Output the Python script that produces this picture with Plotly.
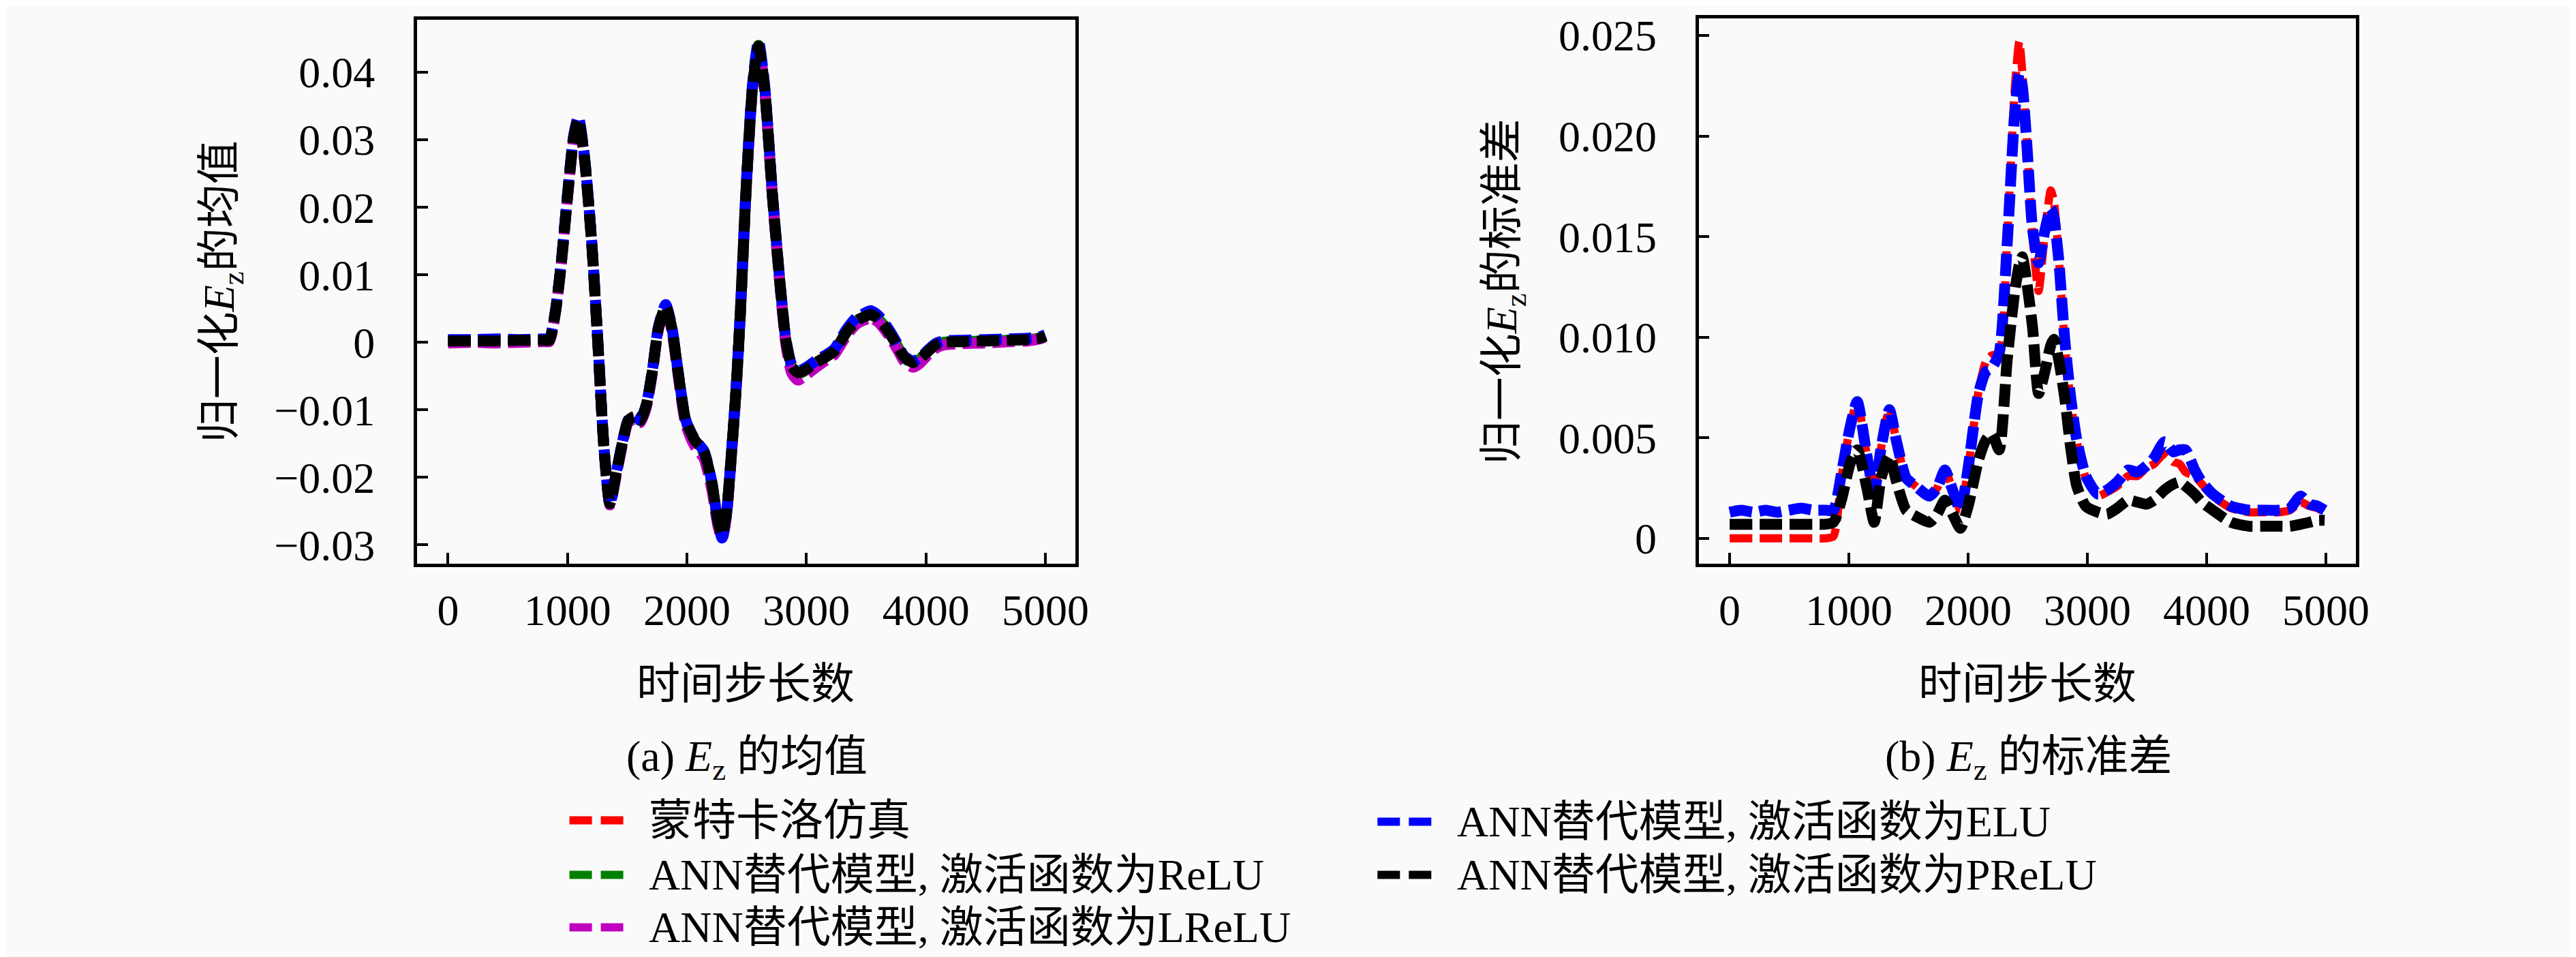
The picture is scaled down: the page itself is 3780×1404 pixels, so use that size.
import plotly.graph_objects as go

# 时间步长 (均值子图)
mean_steps = [0, 200, 400, 600, 800, 848, 898, 949, 1000, 1051, 1091, 1142, 1203, 1254,
              1305, 1355, 1406, 1457, 1508, 1558, 1609, 1660, 1711, 1761, 1822, 1873,
              1924, 1990, 2066, 2142, 2208, 2259, 2294, 2330, 2371, 2411, 2447, 2497,
              2548, 2599, 2650, 2716, 2777, 2827, 2878, 2929, 3000, 3081, 3160, 3234,
              3335, 3420, 3487, 3538, 3600, 3690, 3760, 3817, 3893, 3950, 4020, 4080,
              4147, 4300, 4500, 4700, 4850, 4950, 5000]

mean_prelu = [0.0002, 0.0002, 0.0002, 0.0003, 0.0003, 0.0003, 0.0044, 0.0119, 0.0216, 0.0302,
              0.0330, 0.0273, 0.0147, 0.0000, -0.0156, -0.0239, -0.0196, -0.0151, -0.0116,
              -0.0110, -0.0116, -0.0093, -0.0042, 0.0021, 0.0053, 0.0021, -0.0042, -0.0116,
              -0.0145, -0.0162, -0.0208, -0.0265, -0.0285, -0.0254, -0.0168, -0.0070, 0.0044,
              0.0233, 0.0376, 0.0439, 0.0376, 0.0216, 0.0090, 0.0004, -0.0036, -0.0045,
              -0.0040, -0.0030, -0.0022, -0.0013, 0.0015, 0.0032, 0.0038, 0.0041, 0.0035,
              0.0015, -0.0005, -0.0022, -0.0030, -0.0025, -0.0013, -0.0004, 0.0000, 0.0001,
              0.0002, 0.0003, 0.0004, 0.0006, 0.0009]
mean_mc = [0.0001, 0.0002, 0.0001, 0.0002, 0.0003, 0.0003, 0.0043, 0.0118, 0.0215, 0.0301,
           0.0331, 0.0274, 0.0148, 0.0001, -0.0155, -0.0238, -0.0197, -0.0152, -0.0115,
           -0.0111, -0.0117, -0.0094, -0.0043, 0.0020, 0.0052, 0.0020, -0.0043, -0.0117,
           -0.0148, -0.0165, -0.0211, -0.0268, -0.0287, -0.0256, -0.0169, -0.0071, 0.0043,
           0.0232, 0.0377, 0.0440, 0.0377, 0.0217, 0.0091, 0.0003, -0.0038, -0.0048,
           -0.0042, -0.0032, -0.0023, -0.0014, 0.0014, 0.0031, 0.0037, 0.0040, 0.0034,
           0.0014, -0.0006, -0.0024, -0.0032, -0.0026, -0.0014, -0.0005, -0.0001, 0.0000,
           0.0001, 0.0003, 0.0004, 0.0006, 0.0009]
mean_relu = [0.0002, 0.0002, 0.0003, 0.0002, 0.0003, 0.0003, 0.0044, 0.0119, 0.0217, 0.0303,
             0.0331, 0.0273, 0.0146, -0.0001, -0.0157, -0.0240, -0.0197, -0.0151, -0.0117,
             -0.0111, -0.0116, -0.0093, -0.0042, 0.0021, 0.0054, 0.0021, -0.0042, -0.0117,
             -0.0146, -0.0164, -0.0210, -0.0266, -0.0286, -0.0255, -0.0168, -0.0070, 0.0044,
             0.0234, 0.0377, 0.0440, 0.0377, 0.0216, 0.0090, 0.0003, -0.0037, -0.0047,
             -0.0041, -0.0031, -0.0022, -0.0013, 0.0015, 0.0032, 0.0038, 0.0041, 0.0035,
             0.0015, -0.0005, -0.0023, -0.0031, -0.0025, -0.0013, -0.0004, 0.0000, 0.0001,
             0.0002, 0.0003, 0.0004, 0.0006, 0.0009]
mean_lrelu = [-0.0001, 0.0000, -0.0001, 0.0000, 0.0001, 0.0001, 0.0042, 0.0117, 0.0214, 0.0300,
              0.0329, 0.0271, 0.0145, -0.0002, -0.0158, -0.0241, -0.0199, -0.0154, -0.0119,
              -0.0114, -0.0119, -0.0096, -0.0045, 0.0019, 0.0051, 0.0018, -0.0046, -0.0122,
              -0.0154, -0.0172, -0.0218, -0.0272, -0.0291, -0.0259, -0.0171, -0.0072, 0.0042,
              0.0231, 0.0374, 0.0436, 0.0374, 0.0213, 0.0087, -0.0002, -0.0046, -0.0056,
              -0.0048, -0.0037, -0.0027, -0.0018, 0.0010, 0.0027, 0.0033, 0.0036, 0.0030,
              0.0010, -0.0010, -0.0028, -0.0037, -0.0031, -0.0018, -0.0009, -0.0004, -0.0002,
              -0.0001, 0.0001, 0.0002, 0.0005, 0.0008]
mean_elu = [0.0004, 0.0004, 0.0005, 0.0004, 0.0005, 0.0005, 0.0046, 0.0121, 0.0219, 0.0306,
            0.0334, 0.0276, 0.0149, 0.0002, -0.0155, -0.0240, -0.0196, -0.0150, -0.0115,
            -0.0109, -0.0115, -0.0092, -0.0041, 0.0023, 0.0056, 0.0023, -0.0041, -0.0115,
            -0.0144, -0.0161, -0.0207, -0.0266, -0.0290, -0.0256, -0.0167, -0.0068, 0.0046,
            0.0236, 0.0381, 0.0446, 0.0381, 0.0219, 0.0092, 0.0006, -0.0034, -0.0043,
            -0.0037, -0.0027, -0.0019, -0.0010, 0.0019, 0.0037, 0.0043, 0.0047, 0.0040,
            0.0019, -0.0002, -0.0020, -0.0028, -0.0023, -0.0011, -0.0002, 0.0002, 0.0003,
            0.0004, 0.0005, 0.0006, 0.0008, 0.0011]

# 时间步长 (标准差子图)
std_steps = [0, 100, 200, 300, 400, 500, 600, 700, 800, 870, 937, 1009, 1070, 1151, 1212,
             1270, 1339, 1400, 1480, 1560, 1675, 1740, 1805, 1870, 1935, 2000, 2087, 2150,
             2200, 2260, 2328, 2389, 2429, 2454, 2490, 2540, 2591, 2640, 2693, 2718, 2759,
             2810, 2860, 2911, 2987, 3088, 3164, 3250, 3342, 3420, 3494, 3560, 3646, 3722,
             3773, 3823, 3900, 3960, 4052, 4204, 4356, 4458, 4610, 4700, 4787, 4863, 4930,
             4990]

std_elu = [0.0013, 0.0014, 0.0013, 0.0014, 0.0013, 0.0014, 0.0015, 0.0014, 0.0014, 0.0014,
           0.0032, 0.0055, 0.0068, 0.0041, 0.0023, 0.0045, 0.0064, 0.0048, 0.0030, 0.0026,
           0.0021, 0.0025, 0.0034, 0.0024, 0.0014, 0.0035, 0.0072, 0.0083, 0.0085, 0.0092,
           0.0147, 0.0210, 0.0231, 0.0225, 0.0198, 0.0154, 0.0137, 0.0152, 0.0164, 0.0160,
           0.0139, 0.0099, 0.0070, 0.0049, 0.0031, 0.0022, 0.0024, 0.0028, 0.0034, 0.0033,
           0.0036, 0.0040, 0.0048, 0.0043, 0.0044, 0.0044, 0.0034, 0.0028, 0.0022, 0.0016,
           0.0014, 0.0014, 0.0014, 0.0015, 0.0021, 0.0017, 0.0016, 0.0014]
std_mc = [0.0000, 0.0000, 0.0000, 0.0000, 0.0000, 0.0000, 0.0000, 0.0000, 0.0000, 0.0001,
          0.0030, 0.0055, 0.0068, 0.0041, 0.0023, 0.0045, 0.0064, 0.0048, 0.0030, 0.0026,
          0.0021, 0.0025, 0.0034, 0.0024, 0.0014, 0.0035, 0.0073, 0.0088, 0.0091, 0.0092,
          0.0150, 0.0222, 0.0247, 0.0232, 0.0200, 0.0150, 0.0123, 0.0150, 0.0173, 0.0168,
          0.0141, 0.0097, 0.0068, 0.0048, 0.0030, 0.0021, 0.0023, 0.0026, 0.0031, 0.0031,
          0.0035, 0.0037, 0.0042, 0.0038, 0.0037, 0.0033, 0.0031, 0.0027, 0.0021, 0.0015,
          0.0013, 0.0013, 0.0013, 0.0014, 0.0018, 0.0016, 0.0015, 0.0013]
std_prelu = [0.0007, 0.0007, 0.0007, 0.0007, 0.0007, 0.0007, 0.0007, 0.0007, 0.0007, 0.0008,
             0.0019, 0.0037, 0.0044, 0.0025, 0.0008, 0.0030, 0.0041, 0.0028, 0.0014, 0.0011,
             0.0008, 0.0012, 0.0019, 0.0012, 0.0005, 0.0016, 0.0039, 0.0049, 0.0052, 0.0044,
             0.0089, 0.0122, 0.0136, 0.0140, 0.0128, 0.0105, 0.0072, 0.0082, 0.0096, 0.0099,
             0.0089, 0.0070, 0.0045, 0.0026, 0.0016, 0.0013, 0.0012, 0.0015, 0.0019, 0.0018,
             0.0017, 0.0019, 0.0024, 0.0027, 0.0028, 0.0026, 0.0022, 0.0018, 0.0014, 0.0008,
             0.0006, 0.0006, 0.0006, 0.0006, 0.0007, 0.0008, 0.0009, 0.0009]

x_ticks = [0, 1000, 2000, 3000, 4000, 5000]
x_ticktext = ["0", "1000", "2000", "3000", "4000", "5000"]
mean_ticks = [-0.03, -0.02, -0.01, 0, 0.01, 0.02, 0.03, 0.04]
mean_ticktext = ["\u22120.03", "\u22120.02", "\u22120.01", "0", "0.01", "0.02", "0.03", "0.04"]
std_ticks = [0, 0.005, 0.010, 0.015, 0.020, 0.025]
std_ticktext = ["0", "0.005", "0.010", "0.015", "0.020", "0.025"]

names = ["蒙特卡洛仿真", "ANN替代模型, 激活函数为ReLU", "ANN替代模型, 激活函数为LReLU",
         "ANN替代模型, 激活函数为ELU", "ANN替代模型, 激活函数为PReLU"]
colors = ["#ff0000", "#008000", "#bf00bf", "#0000ff", "#000000"]
widths = [12, 16, 16, 16, 16]

FONT = "Liberation Serif, Noto Sans CJK SC, serif"
DASH = "33px,11px"

fig = go.Figure()

mean_series = [mean_mc, mean_relu, mean_lrelu, mean_elu, mean_prelu]
for name, color, w, ys in zip(names, colors, widths, mean_series):
    fig.add_trace(go.Scatter(x=mean_steps, y=ys, mode="lines", name=name,
                             line=dict(color=color, width=w, dash=DASH, shape="spline", smoothing=0.6),
                             xaxis="x", yaxis="y", showlegend=False))

std_series = [(0, std_mc), (3, std_elu), (4, std_prelu)]
for i, ys in std_series:
    fig.add_trace(go.Scatter(x=std_steps, y=ys, mode="lines", name=names[i],
                             line=dict(color=colors[i], width=widths[i], dash=DASH,
                                       shape="spline", smoothing=0.6),
                             xaxis="x2", yaxis="y2", showlegend=False))

axis_common = dict(showline=True, linewidth=4.5, linecolor="black", mirror=True,
                   ticks="inside", ticklen=16, tickwidth=4, tickcolor="black",
                   showgrid=False, zeroline=False,
                   tickfont=dict(family=FONT, size=64, color="black"))

fig.update_layout(
    width=3780, height=1404,
    margin=dict(l=0, r=0, t=0, b=0),
    paper_bgcolor="#fafafa", plot_bgcolor="#fafafa",
    font=dict(family=FONT, size=64, color="black"),
    xaxis=dict(domain=[0.1606, 0.4175], range=[-260, 5250], tickvals=x_ticks,
               ticktext=x_ticktext, anchor="y", ticklabelstandoff=8, **axis_common),
    yaxis=dict(domain=[0.416, 0.9915], range=[-0.0328, 0.0478], tickvals=mean_ticks,
               ticktext=mean_ticktext, anchor="x", ticklabelstandoff=44, **axis_common),
    xaxis2=dict(domain=[0.6608, 0.9172], range=[-260, 5250], tickvals=x_ticks,
                ticktext=x_ticktext, anchor="y2", ticklabelstandoff=8, **axis_common),
    yaxis2=dict(domain=[0.416, 0.993], range=[-0.00126, 0.02586], tickvals=std_ticks,
                ticktext=std_ticktext, anchor="x2", ticklabelstandoff=44, **axis_common),
)

# 轴标题与子图标题
texts = [
    dict(x=0.2889, y=1 - 999 / 1404, text="时间步长数", textangle=0),
    dict(x=0.7890, y=1 - 999 / 1404, text="时间步长数", textangle=0),
    dict(x=320 / 3780, y=1 - 416 / 1404, text="归一化<i>E</i><sub>z</sub>的均值", textangle=-90),
    dict(x=2212 / 3780, y=1 - 416 / 1404, text="归一化<i>E</i><sub>z</sub>的标准差", textangle=-90),
    dict(x=1094 / 3780, y=1 - 1110 / 1404, text="(a) <i>E</i><sub>z</sub> 的均值", textangle=0),
    dict(x=2985 / 3780, y=1 - 1110 / 1404, text="(b) <i>E</i><sub>z</sub> 的标准差", textangle=0),
]
for t in texts:
    fig.add_annotation(xref="paper", yref="paper", showarrow=False,
                       xanchor="center", yanchor="middle",
                       font=dict(family=FONT, size=64, color="black"), **t)

# 图例 (两列)
legend_pos = [(832, 1201), (832, 1282), (832, 1360), (2024, 1203), (2024, 1282)]
for (px, py), name, color in zip(legend_pos, names, colors):
    yp = 1 - py / 1404
    fig.add_shape(type="line", xref="paper", yref="paper",
                  x0=px / 3780, x1=(px + 80) / 3780, y0=yp, y1=yp,
                  line=dict(color=color, width=12, dash="33px,13px"))
    fig.add_annotation(xref="paper", yref="paper", showarrow=False,
                       x=(px + 115) / 3780, y=yp, xanchor="left", yanchor="middle",
                       text=name, font=dict(family=FONT, size=64, color="black"))

fig.write_html("out.html")
